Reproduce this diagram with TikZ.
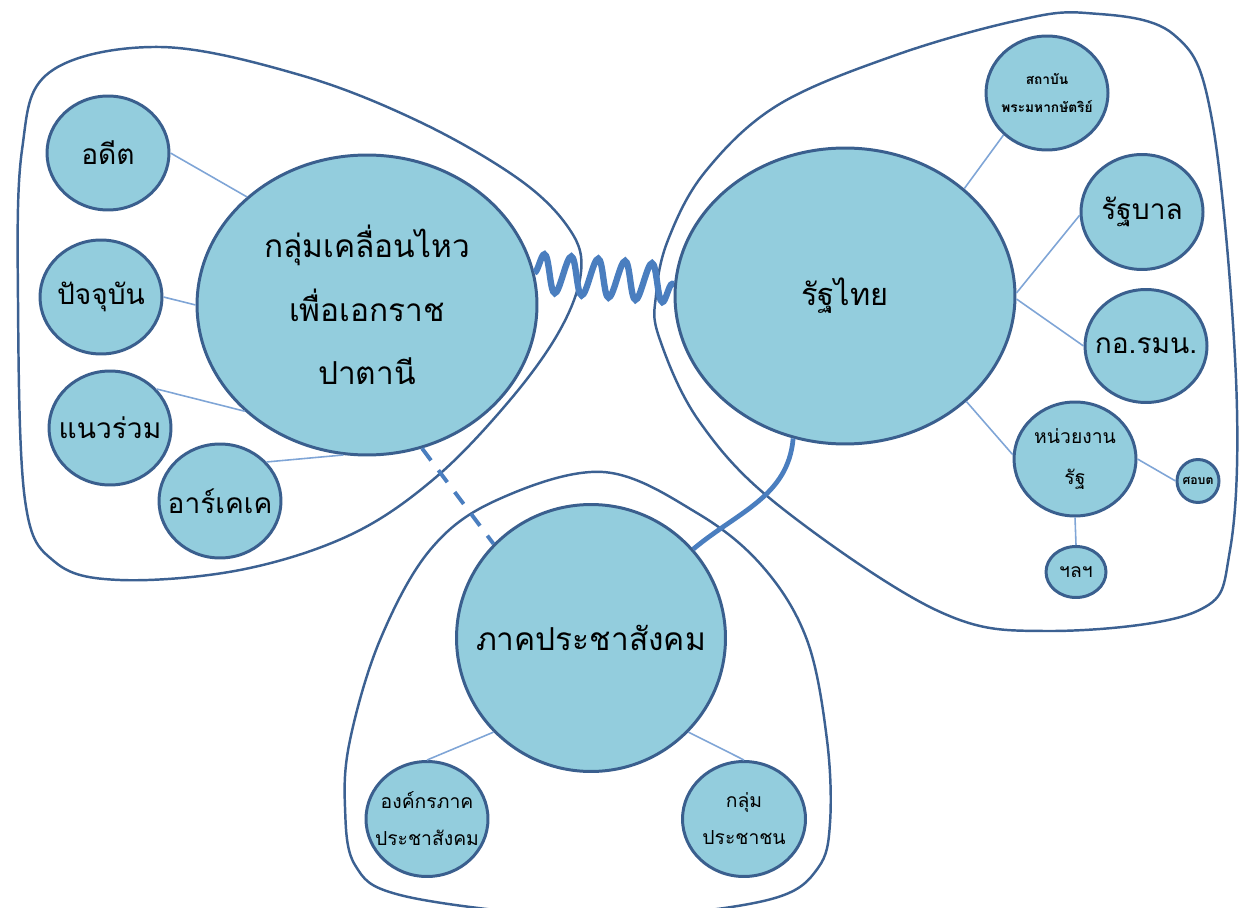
\documentclass[tikz,border=0pt]{standalone}
\usepackage{fontspec}
\setmainfont[Script=Thai]{Loma}
\usetikzlibrary{shapes.geometric,decorations.pathmorphing}
\definecolor{bubblefill}{HTML}{93CDDD}
\definecolor{bubbleline}{HTML}{3A5F8E}
\definecolor{wingline}{HTML}{3C6192}
\definecolor{spokeline}{HTML}{7FA5D6}
\definecolor{tieblue}{HTML}{4A7EBF}
\newcommand{\bigtxt}{\fontsize{18}{36}\selectfont}
\newcommand{\midtxt}{\fontsize{16}{24}\selectfont}
\newcommand{\smalltxt}{\fontsize{11}{21}\selectfont}
\tikzset{
  bubble/.style={ellipse,draw=bubbleline,line width=1.7pt,fill=bubblefill,inner sep=-3cm,align=center},
  wing/.style={draw=wingline,line width=1.4pt},
  spoke/.style={draw=spokeline,line width=0.9pt},
  tie/.style={draw=tieblue,line width=2.7pt}
}
\begin{document}
\begin{tikzpicture}[x=0.02cm,y=-0.02cm]
   \useasboundingbox (0,0) rectangle (1239,908);
   \clip (0,0) rectangle (1239,908);
   \draw[wing] plot[smooth cycle,tension=0.6] coordinates {(18,300) (22,150) (50,72) (160,47) (300,75) (420,122) (520,180) (570,230) (581,272) (560,330) (510,400) (435,478) (350,535) (240,570) (120,580) (55,562) (25,500)};
   \draw[wing] plot[smooth cycle,tension=0.6] coordinates {(1086,13) (1173,34) (1212,120) (1236,379) (1230,550) (1195,612) (1046,631) (936,610) (778,505) (699,421) (659,337) (656,295) (668,240) (705,172) (778,105) (896,55) (1015,21)};
   \draw[wing] plot[smooth cycle,tension=0.6] coordinates {(603,472) (497,500) (430,550) (380,640) (350,740) (345,807) (355,865) (400,895) (547,915) (660,915) (775,898) (818,868) (830,823) (827,740) (807,640) (763,567) (697,513)};
   \node[bubble,minimum width=6.8cm,minimum height=6.0cm,font=\bigtxt] (move) at (367,305) {กลุ่มเคลื่อนไหว\\เพื่อเอกราช\\ปาตานี};
   \node[bubble,minimum width=2.44cm,minimum height=2.28cm,font=\midtxt] (past) at (108,153) {อดีต};
   \node[bubble,minimum width=2.44cm,minimum height=2.28cm,font=\midtxt] (now) at (101,297) {ปัจจุบัน};
   \node[bubble,minimum width=2.44cm,minimum height=2.28cm,font=\midtxt] (ally) at (110,428) {แนวร่วม};
   \node[bubble,minimum width=2.44cm,minimum height=2.28cm,font=\midtxt] (rkk) at (220,501) {อาร์เคเค};
   \node[bubble,minimum width=6.8cm,minimum height=5.92cm,font=\fontsize{17.5}{24}\selectfont] (thai) at (845,296) {รัฐไทย};
   \node[bubble,minimum width=2.44cm,minimum height=2.28cm,font=\bfseries\fontsize{7.8}{16}\selectfont] (crown) at (1047,93) {สถาบัน\\พระมหากษัตริย์};
   \node[bubble,minimum width=2.44cm,minimum height=2.3cm,font=\midtxt] (gov) at (1142,212) {รัฐบาล};
   \node[bubble,minimum width=2.44cm,minimum height=2.26cm,font=\midtxt] (isoc) at (1146,346) {กอ.รมน.};
   \node[bubble,minimum width=2.44cm,minimum height=2.28cm,font=\fontsize{11}{23}\selectfont] (agency) at (1075,459) {หน่วยงาน\\รัฐ};
   \node[bubble,minimum width=0.84cm,minimum height=0.86cm,font=\bfseries\fontsize{7}{8}\selectfont] (sbpac) at (1198,481) {ศอบต};
   \node[bubble,minimum width=1.2cm,minimum height=1.02cm,font=\fontsize{11}{12}\selectfont] (etc) at (1076,572) {ฯลฯ};
   \node[bubble,minimum width=5.38cm,minimum height=5.34cm,font=\bigtxt] (civil) at (591,638) {ภาคประชาสังคม};
   \node[bubble,minimum width=2.44cm,minimum height=2.3cm,font=\smalltxt] (org) at (427,819) {องค์กรภาค\\ประชาสังคม};
   \node[bubble,minimum width=2.46cm,minimum height=2.3cm,font=\smalltxt] (people) at (744,819) {กลุ่ม\\ประชาชน};
   \draw[spoke] (past.east) -- (move.138);
   \draw[spoke] (now.east) -- (move.180);
   \draw[spoke] (ally.40) -- (move.221);
   \draw[spoke] (rkk.40) -- (move.261);
   \draw[spoke] (crown.224) -- (thai.42);
   \draw[spoke] (gov.183) -- (thai.1);
   \draw[spoke] (thai.359) -- (isoc.west);
   \draw[spoke] (thai.319) -- (agency.176);
   \draw[spoke] (agency.east) -- (sbpac.west);
   \draw[spoke] (agency.south) -- (etc.north);
   \draw[spoke] (org.north) -- (civil.224);
   \draw[spoke] (civil.316) -- (people.north);
   \draw[tie,line width=3.6pt,decorate,decoration={snake,segment length=0.54cm,amplitude=0.38cm}] (move.11) -- (thai.176);
   \draw[tie,line width=2.2pt,dash pattern=on 8.5pt off 7pt] (move.291) -- (civil.136);
   \draw[tie] (thai.250) to[out=-95,in=40] (civil.41);
\end{tikzpicture}
\end{document}
